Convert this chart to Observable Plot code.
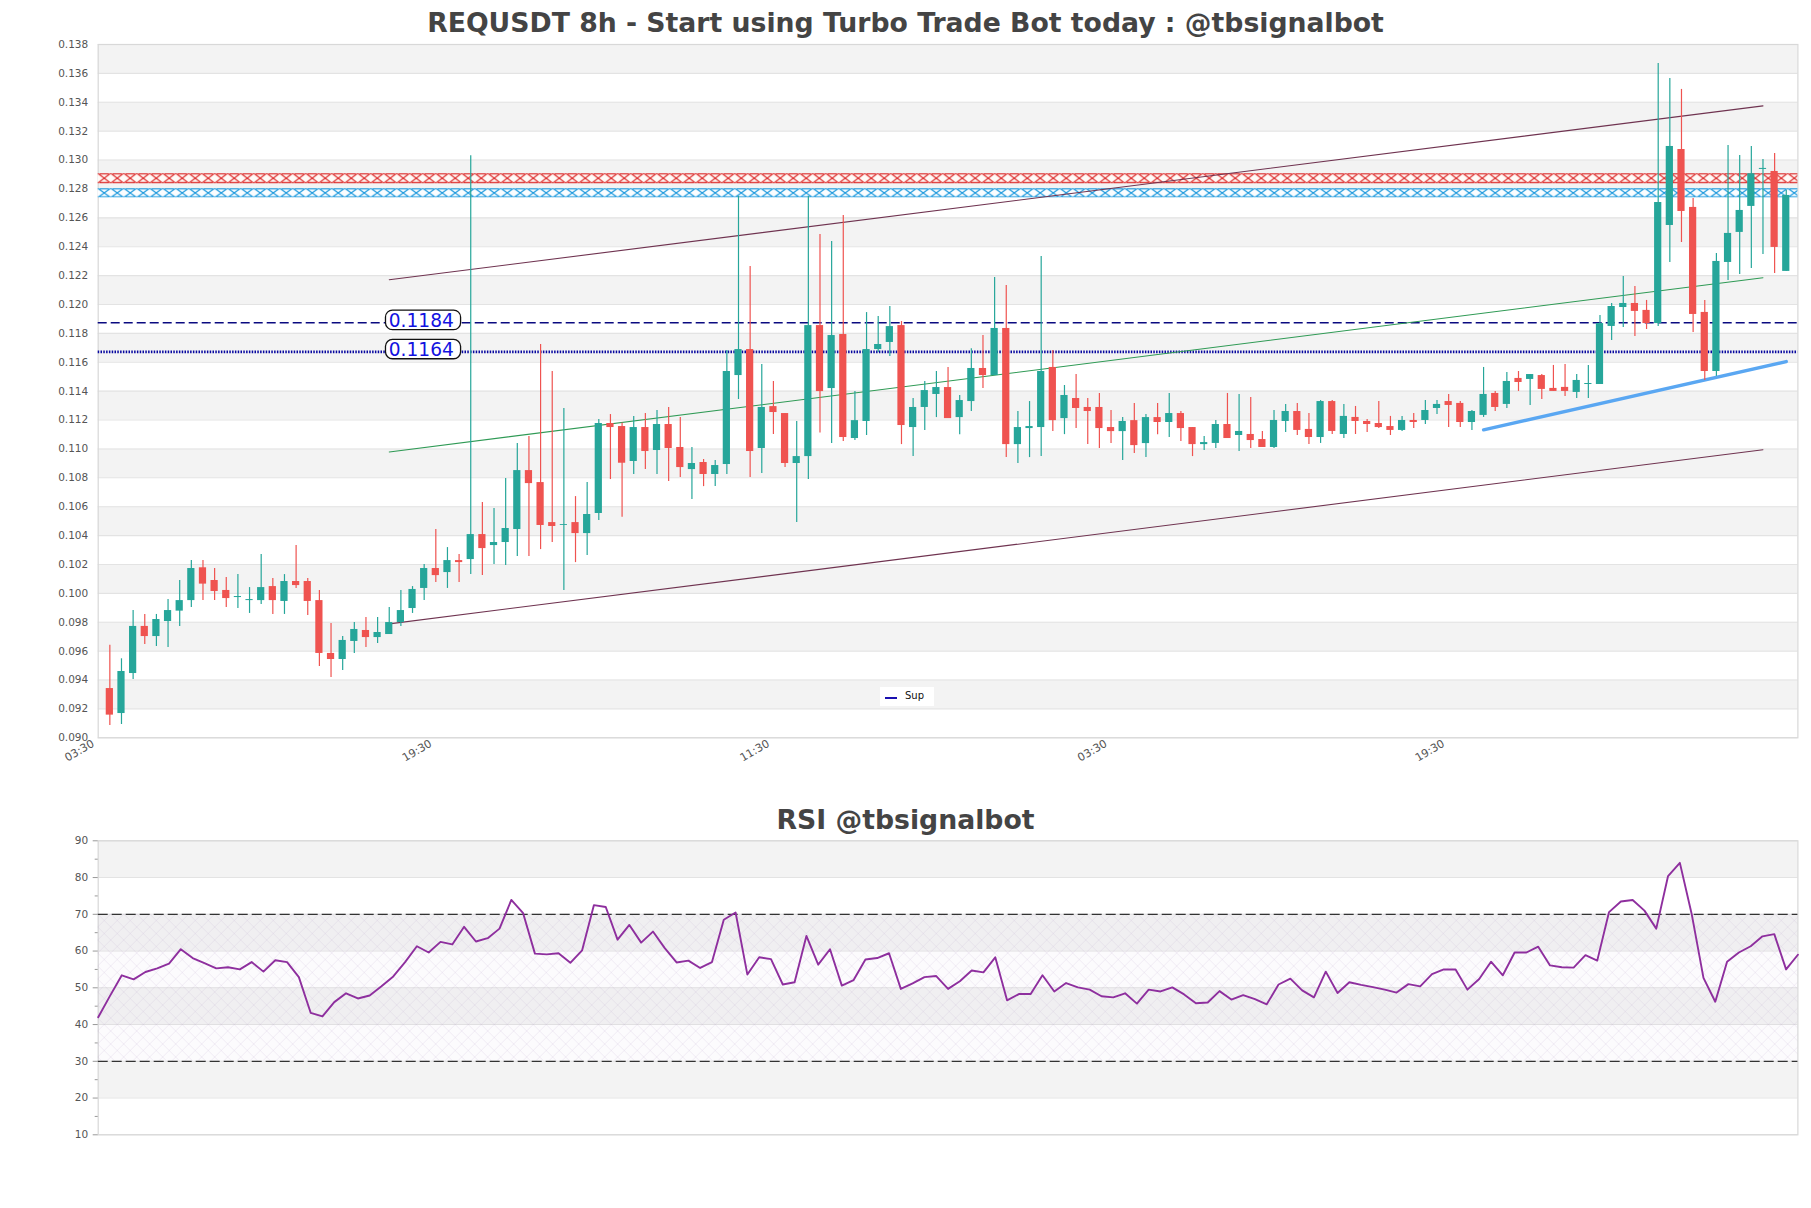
<!DOCTYPE html>
<html>
<head>
<meta charset="utf-8">
<script src="https://cdn.jsdelivr.net/npm/d3@7"></script>
<script src="https://cdn.jsdelivr.net/npm/@observablehq/plot@0.6"></script>
<style>
  html,body{margin:0;padding:0;background:#fff;}
  #page{position:relative;width:1811px;height:1208px;overflow:hidden;font-family:"DejaVu Sans",sans-serif;}
  #page svg{position:absolute;left:0;background:transparent;overflow:visible;}
  .ttl{position:absolute;left:0;width:1811px;text-align:center;font-weight:700;color:#444;line-height:1;margin:0;}
  #legend{position:absolute;left:880px;top:687px;width:54px;height:19px;background:#fff;font-size:10px;color:#111;}
  #legend i{position:absolute;left:5px;top:10px;width:12px;height:2px;background:#1a10b0;}
  #legend span{position:absolute;left:25px;top:3px;}
</style>
</head>
<body>
<div id="page">
  <h1 class="ttl" id="t1" style="top:10px;font-size:26.7px;">REQUSDT 8h - Start using Turbo Trade Bot today : @tbsignalbot</h1>
  <h2 class="ttl" id="t2" style="top:807px;font-size:26.7px;">RSI @tbsignalbot</h2>
  <div id="legend"><i></i><span>Sup</span></div>
</div>
<script>
// candle index runs 1..145, one value per candle
const tops = [.09341,.09459,.09771,.09771,.09819,.09881,.0995,.10172,.10177,.10089,.1002,.09978,.09957,.1004,.10047,.10082,.10082,.10082,.0995,.09584,.09674,.0975,.09743,.09729,.09798,.09881,.10027,.10172,.10172,.10227,.10227,.10407,.10407,.10352,.10449,.1085,.1085,.10767,.1049,.10476,.1049,.10546,.11176,.11176,
.11155,.11148,.11148,.11169,.11169,.1101,.10899,.10906,.10885,.11536,.11688,.11688,.11287,.11293,.11245,.10947,.11854,.11854,.11785,.11792,.11196,.11688,.11723,.11847,.11854,.11287,.11404,.11425,.11425,.11335,.11557,.11557,.11834,.11834,.11148,.11155,.11536,.11564,.1137,.11349,.11287,.11287,.11148,.1119,.11196,.11217,.11217,.11245,.11245,.11148,.11044,
.11169,.11169,.11121,.111,.11065,.11197,.11259,.11259,.11135,.11328,.11328,.11225,.11218,.1119,.11176,.11155,.11197,.11197,.11266,.11308,.11328,.11315,.11259,.11377,.11384,.11467,.11488,.11515,.11508,.11419,.11426,.11474,.11453,.11868,.11986,.12007,.12007,.11959,.12706,.13094,.13073,.12672,.11945,.12298,.12492,.12651,.12905,.12942,.12921,.12755];
const bottoms = [.09157,.09168,.09445,.09701,.09701,.09805,.09877,.0995,.10064,.10013,.09964,.09971,.0995,.0995,.0995,.09944,.10054,.09944,.09584,.09542,.09542,.09667,.09694,.09694,.09715,.09798,.09895,.10034,.10123,.10144,.10213,.10234,.1031,.10331,.10352,.10442,.1076,.1047,.10463,.1047,.10414,.10414,.10553,.11148,
.10901,.10913,.10982,.10989,.11003,.10871,.10857,.10823,.10823,.10892,.11508,.10982,.11003,.11252,.10899,.10899,.10947,.11397,.11418,.11079,.11072,.1119,.11688,.11737,.11162,.11148,.11287,.11377,.1121,.11217,.11328,.11508,.11508,.1103,.1103,.11141,.11148,.11196,.1121,.1128,.11259,.11141,.1112,.1112,.11023,.11037,.11183,.11183,.11141,.1103,.1103,
.11038,.11072,.11093,.11058,.1101,.1101,.1119,.11128,.11079,.11079,.11121,.111,.1119,.11169,.11148,.11128,.11128,.11183,.11197,.1128,.11301,.11183,.11183,.11232,.11287,.11308,.1146,.11481,.11412,.11398,.11398,.11391,.11446,.11446,.11848,.11979,.11952,.11868,.11868,.12547,.12644,.11931,.11536,.11536,.12291,.12499,.12679,.12935,.12395,.12229];
const highs = [.0964,.09547,.09881,.09854,.09854,.09957,.10089,.10227,.10227,.10172,.1011,.1013,.1004,.10269,.10103,.1013,.10331,.10103,.1002,.09791,.09701,.09798,.09833,.09833,.09902,.1002,.10047,.102,.10442,.10317,.10269,.1303,.10629,.10587,.10795,.11037,.11086,.11723,.11536,.1128,.1067,.10767,.11203,.11238,
.1118,.11224,.11245,.11266,.11287,.11217,.1101,.10927,.1092,.11681,.1275,.12263,.11584,.11467,.11245,.1119,.1275,.12484,.12436,.12616,.11397,.11944,.11917,.11986,.11882,.11349,.11467,.11536,.11564,.1137,.11693,.11785,.12187,.12131,.11259,.11328,.12332,.11681,.11439,.11515,.11349,.11384,.11266,.11217,.11314,.11238,.11314,.11384,.11259,.11148,.11086,
.11197,.11384,.11377,.11356,.11121,.11266,.11308,.11315,.11245,.11335,.11335,.11308,.11294,.11204,.11328,.11225,.11225,.11245,.11335,.11335,.11377,.11328,.11266,.11564,.11398,.11529,.11536,.11515,.11515,.11578,.11585,.11515,.11578,.11924,.12007,.12194,.12125,.12028,.13669,.13565,.13489,.12734,.12028,.12353,.13101,.13032,.13094,.13004,.13046,.1279];
const lows = [.09085,.09092,.09404,.09646,.09632,.09625,.09771,.09902,.0995,.0995,.09902,.09895,.09861,.09923,.09854,.09854,.10034,.09847,.09494,.09418,.09466,.09584,.09625,.09653,.09715,.09771,.09861,.0995,.10075,.10034,.10075,.1013,.10123,.102,.10193,.10255,.10255,.10303,.10352,.1002,.10213,.10262,.10504,.10788,
.10527,.10823,.10857,.10823,.10774,.10802,.10649,.10739,.10739,.10823,.11342,.10802,.1083,.111,.10871,.1049,.10788,.1111,.11037,.11051,.11058,.11093,.11667,.1164,.1103,.10947,.11127,.11217,.1121,.11099,.11259,.11418,.11508,.1094,.10899,.1094,.10947,.1112,.11099,.11141,.1103,.11003,.11037,.1092,.10968,.1094,.11099,.11079,.11051,.10947,.10989,
.11003,.11072,.10982,.11003,.1101,.11003,.11114,.11093,.11031,.11038,.111,.11072,.111,.11114,.11142,.11093,.11121,.11142,.11169,.11239,.11148,.11148,.11128,.11218,.11259,.1128,.11398,.11301,.11342,.11398,.11363,.11349,.11349,.11446,.11751,.11841,.11779,.11827,.11848,.12291,.12429,.11806,.11474,.11502,.12166,.12208,.12249,.12346,.12215,.12229];
// true = green candle
const rising = [0,1,1,0,1,1,1,1,0,0,0,1,1,1,0,1,0,0,0,0,1,1,0,1,1,1,1,1,0,1,0,1,0,1,1,1,0,0,0,1,0,1,1,0,
0,1,0,1,0,0,1,0,1,1,1,0,1,0,0,1,1,0,1,0,1,1,1,1,0,1,1,1,0,1,1,0,1,0,1,1,1,0,1,0,0,0,0,1,0,1,0,1,0,0,1,
1,0,1,0,0,1,1,0,0,1,0,1,0,0,0,0,1,0,1,1,0,0,1,1,0,1,0,1,0,0,0,1,1,1,1,1,0,0,1,1,0,0,0,1,1,1,1,1,0,1];

const rsiValues = [42.0,47.8,53.4,52.3,54.3,55.3,56.6,60.5,58.1,56.7,55.3,55.6,55.0,57.0,54.4,57.5,57.0,52.9,43.2,42.2,46.1,48.5,47.1,47.9,50.4,53.1,57.0,61.3,59.6,62.5,61.8,66.6,62.6,63.5,66.1,73.9,70.3,59.3,59.1,59.4,56.8,60.2,72.5,72.0,
63.1,67.1,62.3,65.3,60.8,56.9,57.4,55.4,57.0,68.5,70.5,53.6,58.3,57.8,50.9,51.5,64.1,56.3,60.5,50.6,52.1,57.7,58.1,59.4,49.7,51.2,52.9,53.2,49.7,51.8,54.7,54.2,58.3,46.6,48.3,48.3,53.4,49.0,51.3,50.1,49.5,47.7,47.4,48.5,45.7,49.5,49.0,50.1,48.2,45.8,46.0,49.1,
46.8,48.0,46.9,45.5,50.9,52.5,49.3,47.4,54.4,48.6,51.5,50.8,50.2,49.5,48.7,51.0,50.4,53.7,55.0,55.0,49.5,52.4,57.1,53.4,59.6,59.6,61.2,56.1,55.6,55.5,58.9,57.4,70.6,73.5,73.9,71.0,66.1,80.4,84.0,70.1,52.7,46.2,57.1,59.6,61.3,64.0,64.6,55.0,59.0];

const priceTicks = d3.range(0.090, 0.1381, 0.002);
const tickIndex = [0,29,58,87,116];
const tickLabels = ["03:30","19:30","11:30","03:30","19:30"];
const resistance = [0.11873];
const support = [0.11672];
const levelLabels = ["0.1184","0.1164"];
const zones = [{y1:.12836,y2:.12905,fill:"url(#hatchRed)"},{y1:.12739,y2:.12801,fill:"url(#hatchBlue)"}];
const channelUpper = [{x:25,y:.12171},{x:143,y:.13375}];
const channelMid = [{x:25,y:.10979},{x:143,y:.12185}];
const channelLower = [{x:25,y:.09789},{x:143,y:.10994}];
const supportTrend = [{x:119,y:.11132},{x:145,y:.11605}];

const candles = tops.map((t,k)=>({i:k+1,top:t,bottom:bottoms[k],high:highs[k],low:lows[k],up:!!rising[k]}));
const GREEN="#26a69a", RED="#ef5350";
const greyBands = d3.range(0,12).map(k=>({y2:+(0.138-k*0.004).toFixed(3),y1:+(0.136-k*0.004).toFixed(3)}));

const defs = (html)=>()=>{
  const g=document.createElementNS("http://www.w3.org/2000/svg","defs");
  g.innerHTML=html; return g;
};

const main = Plot.plot({
  width:1811,height:790,
  marginLeft:97.7,marginRight:13.6,marginTop:44,marginBottom:52.7,
  style:{fontFamily:"DejaVu Sans",fontSize:"10.5px",color:"#555",background:"transparent"},
  x:{domain:[0,146]},
  y:{domain:[0.090,0.138]},
  marks:[
    defs(`
      <pattern id="hatchRed" patternUnits="userSpaceOnUse" x="97.7" y="173.2" width="13" height="10">
        <rect width="13" height="10" fill="#fffaf7"/>
        <path d="M0 0L13 10M13 0L0 10" stroke="#dc2a2a" stroke-width="1.2" fill="none"/>
        <path d="M2 .6H11M2 9.4H11" stroke="#dc2a2a" stroke-width="1.2" fill="none"/>
      </pattern>
      <pattern id="hatchBlue" patternUnits="userSpaceOnUse" x="97.7" y="188.3" width="13" height="9.2">
        <rect width="13" height="9.2" fill="#fbfdff"/>
        <path d="M0 0L13 9.2M13 0L0 9.2" stroke="#1596dc" stroke-width="1.2" fill="none"/>
        <path d="M2 .6H11M2 8.6H11" stroke="#1596dc" stroke-width="1.2" fill="none"/>
      </pattern>`),
    Plot.rect(greyBands,{x1:0,x2:146,y1:"y1",y2:"y2",fill:"#f3f3f3"}),
    Plot.ruleY(priceTicks,{stroke:"#e3e3e3",strokeWidth:1.1}),
    Plot.frame({stroke:"#d8d8d8",strokeWidth:1.2}),
    Plot.rect(zones,{x1:0,x2:146,y1:"y1",y2:"y2",fill:"fill"}),
    Plot.ruleY(resistance,{stroke:"#0a0a80",strokeWidth:1.5,strokeDasharray:"9,4"}),
    Plot.ruleY(support,{stroke:"#0808a0",strokeWidth:2.6,strokeDasharray:"1.5,1.3"}),
    Plot.line(channelUpper,{x:"x",y:"y",stroke:"#6f3350",strokeWidth:1.1}),
    Plot.line(channelLower,{x:"x",y:"y",stroke:"#6f3350",strokeWidth:1.1}),
    Plot.line(channelMid,{x:"x",y:"y",stroke:"#2f9a55",strokeWidth:1.1}),
    Plot.line(supportTrend,{x:"x",y:"y",stroke:"#5aa7f2",strokeWidth:3.4}),
    Plot.ruleX(candles,{x:"i",y1:"low",y2:"high",stroke:d=>d.up?GREEN:RED,strokeWidth:1.2}),
    Plot.rect(candles,{x1:d=>d.i-0.31,x2:d=>d.i+0.31,y1:"bottom",y2:"top",fill:d=>d.up?GREEN:RED}),
    Plot.rect([{y1:.11822,y2:.11958},{y1:.11621,y2:.11755}],{x1:24.72,x2:31.17,y1:"y1",y2:"y2",fill:"#fff",stroke:"#111",strokeWidth:1.3,rx:7}),
    Plot.text(levelLabels,{x:27.75,y:(d,k)=>[.11885,.11683][k],text:d=>d,fill:"#1212e0",fontSize:18.6,fontFamily:"DejaVu Sans"}),
    Plot.axisY({ticks:priceTicks,tickFormat:d3.format(".3f"),tickSize:0,tickPadding:10,fill:"#555",fontSize:10.5,label:null}),
    Plot.axisX({ticks:tickIndex,tickFormat:d=>tickLabels[tickIndex.indexOf(d)],tickSize:0,tickRotate:-30,tickPadding:5,dx:-5,dy:0,fill:"#555",fontSize:11,label:null}),
  ]
});
main.style.top="0px";

const rsiPoints = rsiValues.map((v,k)=>({k,v}));
const rsiBands=[{y1:80,y2:90},{y1:60,y2:70},{y1:40,y2:50},{y1:20,y2:30}];
const rsiMajor=d3.range(10,91,10), rsiMinor=d3.range(15,86,10);
const rsi = Plot.plot({
  width:1811,height:1160,
  marginLeft:97.7,marginRight:13.6,marginTop:840.3,marginBottom:25.7,
  style:{fontFamily:"DejaVu Sans",fontSize:"10.5px",color:"#555",background:"transparent"},
  x:{domain:[0,144],axis:null},
  y:{domain:[10,90]},
  marks:[
    defs(`
      <pattern id="hatchRsi" patternUnits="userSpaceOnUse" x="97.7" y="849" width="13" height="13">
        <rect width="13" height="13" fill="#b48ad2" fill-opacity=".035"/>
        <path d="M0 0L13 13M13 0L0 13" stroke="#b09cc8" stroke-opacity=".2" stroke-width=".8" fill="none"/>
      </pattern>`),
    Plot.rect(rsiBands,{x1:0,x2:144,y1:"y1",y2:"y2",fill:"#f3f3f3"}),
    Plot.ruleY(rsiMajor,{stroke:"#e3e3e3",strokeWidth:1.1}),
    Plot.frame({stroke:"#d8d8d8",strokeWidth:1.2}),
    Plot.rect([{y1:30,y2:70}],{x1:0,x2:144,y1:"y1",y2:"y2",fill:"url(#hatchRsi)"}),
    Plot.ruleY([70,30],{stroke:"#333",strokeWidth:1.2,strokeDasharray:"10,4"}),
    Plot.line(rsiPoints,{x:"k",y:"v",stroke:"#8e2f9e",strokeWidth:1.9}),
    Plot.axisY({ticks:rsiMajor,tickSize:5,tickPadding:5,stroke:"#999",fill:"#555",fontSize:10.5,label:null}),
    Plot.axisY({ticks:rsiMinor,tickSize:3,tickFormat:()=>"",stroke:"#999",label:null}),
  ]
});
rsi.style.top="0px";
const page=document.getElementById("page");
page.prepend(rsi);
page.prepend(main);
</script>
</body>
</html>
